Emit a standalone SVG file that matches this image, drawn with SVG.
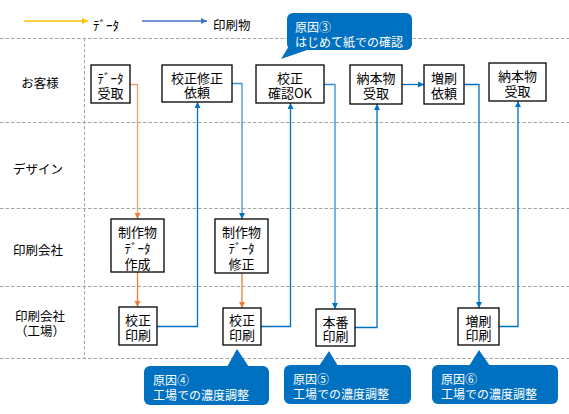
<svg xmlns="http://www.w3.org/2000/svg" width="569" height="414" viewBox="0 0 569 414">
<style>
text{font-family:"Noto Sans CJK JP","Noto Sans",sans-serif;fill:#000;dominant-baseline:central}
.n{font-size:13px;text-anchor:middle}
.lane{font-size:12.5px;text-anchor:middle}
.box{fill:#fff;stroke:#000;stroke-width:1.3}
.grid{stroke:#A6A6A6;stroke-width:1;stroke-dasharray:3.5 2;fill:none}
.b{stroke:#0070C0;stroke-width:1.3;fill:none;marker-end:url(#ab)}
.o{stroke:#ED7D31;stroke-width:1.3;fill:none;marker-end:url(#ao)}
.call{fill:#0070C0}
.ct{font-size:12px;fill:#fff}
</style>
<defs>
<marker id="ab" markerUnits="userSpaceOnUse" markerWidth="8" markerHeight="8" refX="6" refY="3" orient="auto"><path d="M0,0 L6,3 L0,6 z" fill="#0070C0"/></marker>
<marker id="ao" markerUnits="userSpaceOnUse" markerWidth="8" markerHeight="8" refX="6" refY="3" orient="auto"><path d="M0,0 L6,3 L0,6 z" fill="#ED7D31"/></marker>
<marker id="ly" markerUnits="userSpaceOnUse" markerWidth="8" markerHeight="8" refX="6" refY="3" orient="auto"><path d="M0,0 L6,3 L0,6 z" fill="#FFC000"/></marker>
<marker id="lb" markerUnits="userSpaceOnUse" markerWidth="8" markerHeight="8" refX="6" refY="3" orient="auto"><path d="M0,0 L6,3 L0,6 z" fill="#4472C4"/></marker>
</defs>
<rect width="569" height="414" fill="#fff"/>
<g id="legend">
<line x1="24" y1="21" x2="88" y2="21" stroke="#FFC000" stroke-width="1.3" marker-end="url(#ly)"/>
<text x="93" y="24" style="font-size:13px">ﾃﾞｰﾀ</text>
<line x1="142" y1="21" x2="207" y2="21" stroke="#4472C4" stroke-width="1.3" marker-end="url(#lb)"/>
<text x="213" y="24" style="font-size:12.5px">印刷物</text>
</g>
<g id="grid">
<line class="grid" x1="0" y1="38.5" x2="569" y2="38.5"/>
<line class="grid" x1="0" y1="122.5" x2="569" y2="122.5"/>
<line class="grid" x1="0" y1="208.5" x2="569" y2="208.5"/>
<line class="grid" x1="0" y1="286.5" x2="569" y2="286.5"/>
<line class="grid" x1="0" y1="358.5" x2="569" y2="358.5"/>
<line class="grid" x1="84.5" y1="38" x2="84.5" y2="359"/>
</g>
<g id="lanes">
<text class="lane" x="40" y="82">お客様</text>
<text class="lane" x="38" y="168">デザイン</text>
<text class="lane" x="38" y="249">印刷会社</text>
<text class="lane" x="40" y="315">印刷会社<tspan x="40" dy="15">（工場）</tspan></text>
</g>
<g id="connectors">
<path class="o" d="M130,84.5 H137.5 V219" stroke-opacity="0.7"/>
<path class="o" d="M137.5,272 V307"/>
<path class="b" d="M157,326.5 H197.5 V102"/>
<path class="b" d="M232,83.5 H242 V219" stroke-opacity="0.75"/>
<path class="o" d="M242,273 V308"/>
<path class="b" d="M261,326.5 H290.5 V103"/>
<path class="b" d="M324,84.5 H335 V309" stroke-opacity="0.8"/>
<path class="b" d="M355,327.5 H377 V104"/>
<path class="b" d="M402,84.5 H424"/>
<path class="b" d="M464,84.5 H479 V308"/>
<path class="b" d="M499,326.5 H518 V101"/>
</g>
<g id="n1"><rect class="box" x="91" y="65" width="39" height="38"/><text class="n" x="110.5" y="77">ﾃﾞｰﾀ<tspan x="110.5" dy="15">受取</tspan></text></g>
<g id="n2"><rect class="box" x="162" y="65" width="70" height="37"/><text class="n" x="197" y="77">校正修正<tspan x="197" dy="14">依頼</tspan></text></g>
<g id="n3"><rect class="box" x="256" y="65" width="68" height="38"/><text class="n" x="290" y="77">校正<tspan x="290" dy="15">確認OK</tspan></text></g>
<g id="n4"><rect class="box" x="350" y="65" width="52" height="39"/><text class="n" x="376" y="77">納本物<tspan x="376" dy="15">受取</tspan></text></g>
<g id="n5"><rect class="box" x="424" y="65" width="40" height="39"/><text class="n" x="444" y="77">増刷<tspan x="444" dy="15">依頼</tspan></text></g>
<g id="n6"><rect class="box" x="489" y="63" width="57" height="38"/><text class="n" x="517.5" y="75">納本物<tspan x="517.5" dy="15">受取</tspan></text></g>
<g id="n7"><rect class="box" x="111" y="219" width="53" height="53"/><text class="n" x="137.5" y="231">制作物<tspan x="137.5" dy="16">ﾃﾞｰﾀ</tspan><tspan x="137.5" dy="16">作成</tspan></text></g>
<g id="n8"><rect class="box" x="215" y="219" width="53" height="54"/><text class="n" x="241.5" y="231">制作物<tspan x="241.5" dy="16">ﾃﾞｰﾀ</tspan><tspan x="241.5" dy="16">修正</tspan></text></g>
<g id="n9"><rect class="box" x="119" y="307" width="38" height="38"/><text class="n" x="138" y="319">校正<tspan x="138" dy="15">印刷</tspan></text></g>
<g id="n10"><rect class="box" x="223" y="308" width="38" height="37"/><text class="n" x="242" y="319">校正<tspan x="242" dy="15">印刷</tspan></text></g>
<g id="n11"><rect class="box" x="316" y="309" width="39" height="37"/><text class="n" x="335.5" y="321">本番<tspan x="335.5" dy="14">印刷</tspan></text></g>
<g id="n12"><rect class="box" x="458" y="308" width="41" height="37"/><text class="n" x="478.5" y="320">増刷<tspan x="478.5" dy="14">印刷</tspan></text></g>
<g id="c3"><rect class="call" x="287" y="13" width="125" height="37" rx="6"/><polygon class="call" points="289,46 281,59 310,49"/><text class="ct" x="295" y="26">原因③<tspan x="295" dy="15">はじめて紙での確認</tspan></text></g>
<g id="c4"><rect class="call" x="144" y="366" width="125" height="39" rx="6"/><polygon class="call" points="227,367 237,349 249,367"/><text class="ct" x="153" y="379">原因④<tspan x="153" dy="15">工場での濃度調整</tspan></text></g>
<g id="c5"><rect class="call" x="284" y="365" width="127" height="39" rx="6"/><polygon class="call" points="319,366 329,351 338,366"/><text class="ct" x="293" y="378">原因⑤<tspan x="293" dy="15">工場での濃度調整</tspan></text></g>
<g id="c6"><rect class="call" x="432" y="365" width="126" height="39" rx="6"/><polygon class="call" points="469,366 479,350 490,366"/><text class="ct" x="441" y="378">原因⑥<tspan x="441" dy="15">工場での濃度調整</tspan></text></g>
</svg>
